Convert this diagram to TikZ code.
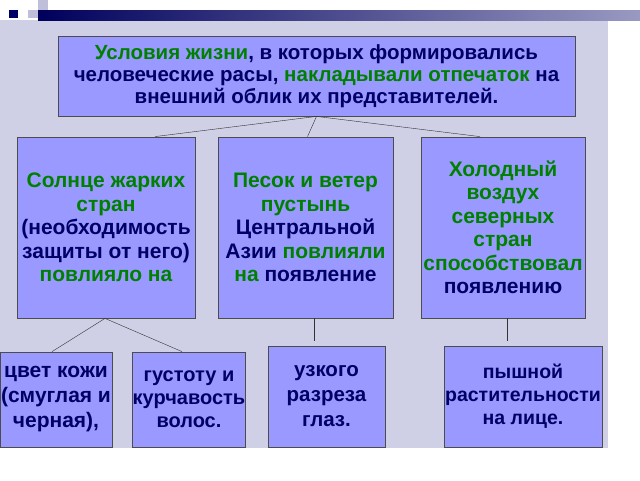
\documentclass[tikz,border=0pt]{standalone}
\usepackage{fontspec}
\setmainfont{Liberation Sans}
\usetikzlibrary{calc}
\definecolor{panel}{HTML}{CFCFE6}
\definecolor{boxfill}{HTML}{9999FF}
\definecolor{navytext}{HTML}{000066}
\definecolor{greentext}{HTML}{008000}
\tikzset{
  cause/.style={draw=black!70,fill=boxfill,thick,text=navytext,align=center,inner sep=0pt,
    font=\bfseries\fontsize{21}{23.5}\selectfont},
  effect/.style={cause,font=\bfseries\fontsize{21}{25}\selectfont},
  branch/.style={black!80,thin},
}
\newcommand{\gr}[1]{\textcolor{greentext}{#1}}
\begin{document}
\begin{tikzpicture}[x=1pt,y=-1pt]
  \useasboundingbox (0,0) rectangle (640,480);
  % background and header strip
  \fill[panel] (0,20) rectangle (608,448);
  \shade[left color=navytext!90!black,right color=navytext!40!white] (38,10) rectangle (640,20);
  \fill[navytext] (9,10) rectangle (18,18);
  \fill[navytext!25!white] (28,10) rectangle (38,18);
  \fill[navytext!25!white] (38,0) rectangle (48,10);

  \node[cause,minimum width=517pt,minimum height=80pt,font=\bfseries\fontsize{20.5}{22}\selectfont] (main) at (316.5,76)
    {\gr{Условия жизни}, в которых формировались\\человеческие расы, \gr{накладывали отпечаток} на\\внешний облик их представителей.};

  \node[cause,minimum width=178pt,minimum height=181pt] (sun) at (106,227.5)
    {\gr{Солнце жарких}\\\gr{стран}\\(необходимость\\защиты от него)\\\gr{повлияло на}};
  \node[cause,minimum width=175pt,minimum height=181pt] (sand) at (305.5,227.5)
    {\gr{Песок и ветер}\\\gr{пустынь}\\Центральной\\Азии \gr{повлияли}\\\gr{на} появление};
  \node[cause,minimum width=164pt,minimum height=181pt] (cold) at (503,227.5)
    {\gr{Холодный}\\\gr{воздух}\\\gr{северных}\\\gr{стран}\\\gr{способствовал}\\появлению};

  \node[effect,minimum width=112pt,minimum height=95pt] (skin) at (56,399.5)
    {цвет кожи\\(смуглая и\\черная),};
  \node[effect,minimum width=112pt,minimum height=95pt,font=\bfseries\fontsize{20}{23}\selectfont] (hair) at (189,399.5)
    {густоту и\\курчавость\\волос.};
  \node[effect,minimum width=117pt,minimum height=101pt,font=\bfseries\fontsize{20.5}{25}\selectfont] (eyes) at (326.5,396.5)
    {узкого\\разреза\\глаз.};
  \node[effect,minimum width=158pt,minimum height=101pt,font=\bfseries\fontsize{19.5}{23}\selectfont] (beard) at (523,396.5)
    {пышной\\растительности\\на лице.};

  % branches
  \draw[branch] (main.south) -- ($(sun.north)+(49,0)$);
  \draw[branch] (main.south) -- ($(sand.north)+(2,0)$);
  \draw[branch] (main.south) -- ($(cold.north)+(-23,0)$);
  \draw[branch] ($(sun.south)+(-1,0)$) -- ($(skin.north)+(-4,0)$);
  \draw[branch] ($(sun.south)+(-1,0)$) -- ($(hair.north)+(-7,0)$);
  \draw[branch] ($(sand.south)+(9,0)$) -- ($(sand.south)+(9,23)$);
  \draw[branch] ($(cold.south)+(4,0)$) -- ($(cold.south)+(4,23)$);
\end{tikzpicture}
\end{document}
